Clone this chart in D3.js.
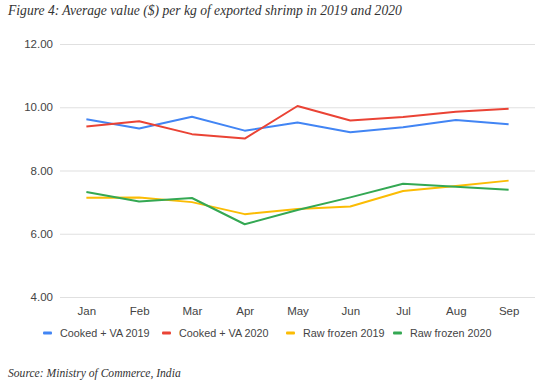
<!DOCTYPE html>
<html>
<head>
<meta charset="utf-8">
<script src="https://cdn.jsdelivr.net/npm/d3@7"></script>
<style>
  body { margin: 0; background: #fff; }
  svg { display: block; }
</style>
</head>
<body>
<svg id="chart" width="550" height="387"></svg>
<script>
var months = ["Jan", "Feb", "Mar", "Apr", "May", "Jun", "Jul", "Aug", "Sep"];
var seriesNames = ["Cooked + VA 2019", "Cooked + VA 2020", "Raw frozen 2019", "Raw frozen 2020"];
var cooked2019 = [9.62, 9.33, 9.70, 9.26, 9.52, 9.21, 9.37, 9.60, 9.46];
var cooked2020 = [9.39, 9.56, 9.15, 9.01, 10.04, 9.58, 9.69, 9.86, 9.95];
var raw2019 = [7.14, 7.15, 7.00, 6.62, 6.78, 6.86, 7.35, 7.51, 7.68];
var raw2020 = [7.32, 7.02, 7.13, 6.30, 6.75, 7.15, 7.58, 7.49, 7.39];
var yTicks = [4, 6, 8, 10, 12];
var colors = ["#4285F4", "#EA4335", "#FBBC04", "#34A853"];

var series = [cooked2019, cooked2020, raw2019, raw2020];

var svg = d3.select("#chart");
var plotLeft = 60, plotRight = 535, plotTop = 44, plotBottom = 297;
var sans = "'Liberation Sans', Arial, sans-serif";

var x = d3.scalePoint().domain(months).range([plotLeft, plotRight]).padding(0.5);
var y = d3.scaleLinear().domain([4, 12]).range([plotBottom, plotTop]);

svg.append("text")
    .attr("x", 8).attr("y", 15)
    .style("font-family", "'Liberation Serif', serif")
    .style("font-style", "italic")
    .style("font-size", "13.6px")
    .attr("fill", "#333")
    .text("Figure 4: Average value ($) per kg of exported shrimp in 2019 and 2020");

// gridlines + y labels
var yAxis = svg.append("g")
    .attr("transform", "translate(" + plotLeft + ",0)")
    .call(d3.axisLeft(y).tickValues(yTicks).tickSize(-(plotRight - plotLeft)).tickPadding(7)
        .tickFormat(d3.format(".2f")));
yAxis.select(".domain").remove();
yAxis.selectAll("line").attr("stroke", "#e0e0e0").attr("stroke-width", 1.2);
yAxis.selectAll("text").attr("fill", "#444")
    .style("font-family", sans).style("font-size", "11.5px");

var xAxis = svg.append("g")
    .attr("transform", "translate(0," + plotBottom + ")")
    .call(d3.axisBottom(x).tickSize(0).tickPadding(10));
xAxis.select(".domain").remove();
xAxis.selectAll("text").attr("fill", "#444")
    .style("font-family", sans).style("font-size", "11.5px");

var line = d3.line()
    .x(function (d, i) { return x(months[i]); })
    .y(function (d) { return y(d); });

series.forEach(function (s, k) {
    svg.append("path")
        .datum(s)
        .attr("d", line)
        .attr("fill", "none")
        .attr("stroke", colors[k])
        .attr("stroke-width", 2)
        .attr("stroke-linejoin", "round");
});

// legend
var legendX = [43, 162, 286, 393];
var legend = svg.append("g").attr("transform", "translate(0,333)");
seriesNames.forEach(function (name, k) {
    var g = legend.append("g").attr("transform", "translate(" + legendX[k] + ",0)");
    g.append("rect").attr("x", 0).attr("y", -1.5).attr("width", 9).attr("height", 3)
        .attr("rx", 1).attr("fill", colors[k]);
    g.append("text").attr("x", 17).attr("y", 4)
        .attr("fill", "#444")
        .style("font-family", sans).style("font-size", "10.8px")
        .text(name);
});

svg.append("text")
    .attr("x", 8).attr("y", 377)
    .style("font-family", "'Liberation Serif', serif")
    .style("font-style", "italic")
    .style("font-size", "11.6px")
    .attr("fill", "#333")
    .text("Source: Ministry of Commerce, India");
</script>
</body>
</html>
